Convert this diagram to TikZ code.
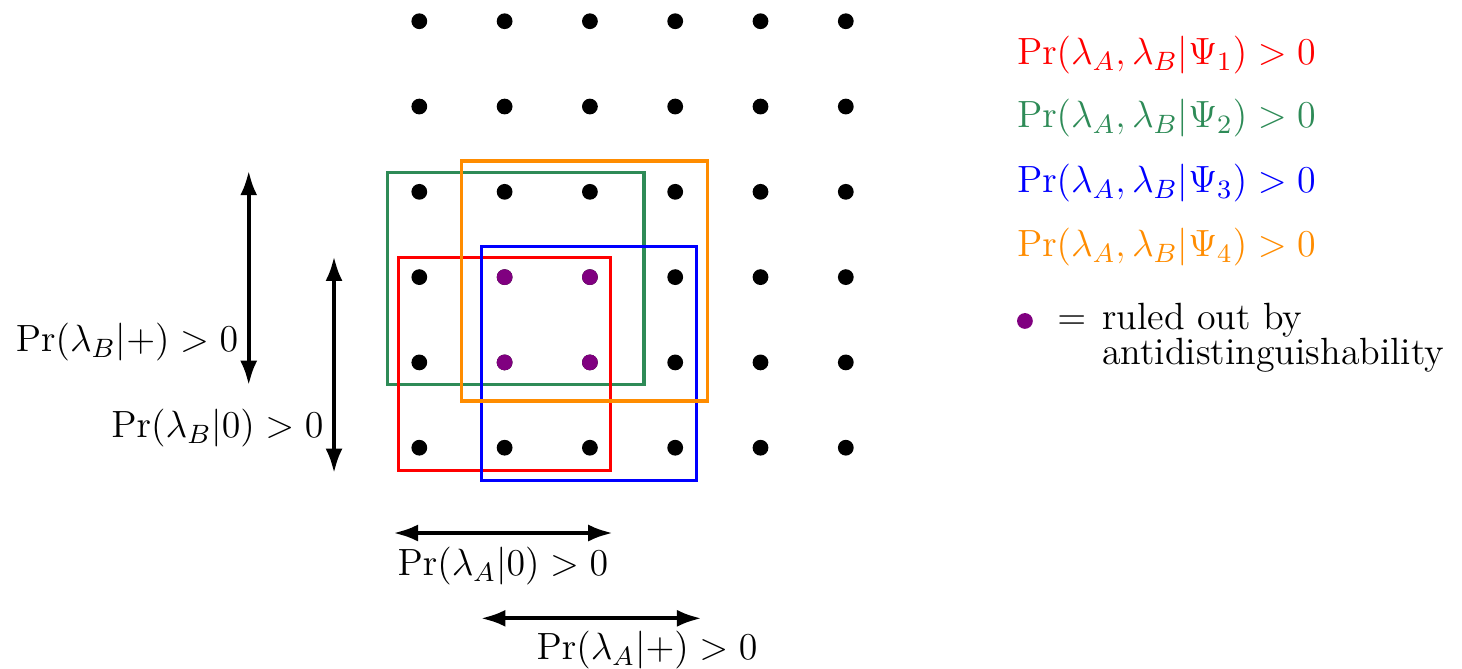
\RequirePackage{fix-cm}
\documentclass[tikz,border=0pt]{standalone}
\usepackage{amsmath}
\usepackage{amssymb}
\usepackage{tikz}
\usetikzlibrary{
    arrows.meta,
    positioning
}
\tikzset{
  pt/.style      = {circle, fill=black, inner sep=0pt, minimum size=0.185cm},
  psibox/.style  = {line width=1.1pt},
  span/.style    = {{Latex[length=2.9mm,width=2.0mm]}-{Latex[length=2.9mm,width=2.0mm]},
                    line width=1.4pt},
  lbl/.style     = {font=\fontsize{12.65}{14}\selectfont}
}
\definecolor{PsiRed}{RGB}{255,0,0}
\definecolor{PsiGreen}{RGB}{46,139,87}
\definecolor{PsiBlue}{RGB}{0,0,255}
\definecolor{PsiOrange}{RGB}{255,140,0}
\definecolor{RuledPurple}{RGB}{128,0,128}

\begin{document}
\begin{tikzpicture}[
    ruled/.style={pt, fill=RuledPurple},
    leg/.style={lbl, anchor=west, inner sep=0pt}
]
\useasboundingbox (-4.916,-2.594) rectangle (12.224,5.249);

% ontic states
\foreach \i in {0,...,5}
  \foreach \j in {0,...,5}
    \node[pt] (d\i\j) at (\i,\j) {};
\foreach \i/\j in {1/1,1/2,2/1,2/2}
  \node[ruled] (r\i\j) at (\i,\j) {};

% supports of the four states
\draw[psibox, PsiGreen]  (-0.375,0.743) rectangle (2.634,3.228);
\draw[psibox, PsiRed]    (-0.246,-0.27) rectangle (2.244,2.232);
\draw[psibox, PsiBlue]   (0.731,-0.387) rectangle (3.25,2.356);
\draw[psibox, PsiOrange] (0.497,0.547) rectangle (3.38,3.36);

% marginal supports
\coordinate (bp1) at (-2,0.73);  \coordinate (bp2) at (-2,3.25);
\coordinate (bz1) at (-1,-0.3);  \coordinate (bz2) at (-1,2.245);
\coordinate (az1) at (-0.305,-1); \coordinate (az2) at (2.27,-1);
\coordinate (ap1) at (0.72,-2);  \coordinate (ap2) at (3.31,-2);

\draw[span] (bp1) -- (bp2);
\draw[span] (bz1) -- (bz2);
\draw[span] (az1) -- (az2);
\draw[span] (ap1) -- (ap2);

\node[lbl, anchor=east] (lbp) at (-2,1.24) {$\Pr(\lambda_B|{+}) > 0$};
\node[lbl, anchor=east] (lbz) at (-1,0.23) {$\Pr(\lambda_B|0) > 0$};
\node[lbl] (laz) at (0.98,-1.39) {$\Pr(\lambda_A|0) > 0$};
\node[lbl] (lap) at (2.67,-2.37) {$\Pr(\lambda_A|{+}) > 0$};

% legend
\node[leg, PsiRed]    (k1) at (7.0,4.60) {$\Pr(\lambda_A,\lambda_B|\Psi_1) > 0$};
\node[leg, PsiGreen]  (k2) at (7.0,3.86) {$\Pr(\lambda_A,\lambda_B|\Psi_2) > 0$};
\node[leg, PsiBlue]   (k3) at (7.0,3.10) {$\Pr(\lambda_A,\lambda_B|\Psi_3) > 0$};
\node[leg, PsiOrange] (k4) at (7.0,2.35) {$\Pr(\lambda_A,\lambda_B|\Psi_4) > 0$};

\node[ruled] (kdot) at (7.1,1.486) {};
\node[lbl] (keq) at (7.65,1.47) {$=$};
\node[lbl, anchor=north west, inner sep=0pt, align=left] (ktxt) at (8.0,1.70)
    {ruled out by\\[-2.3pt]antidistinguishability};
\end{tikzpicture}
\end{document}
